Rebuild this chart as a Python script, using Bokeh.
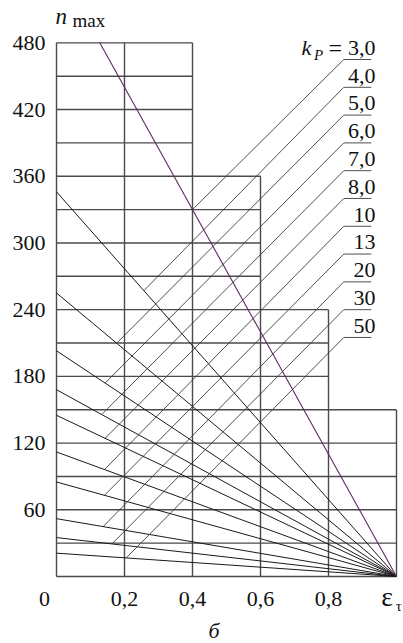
from bokeh.plotting import figure
from bokeh.models import Range1d
from bokeh.core.properties import value
from bokeh.embed import file_html
from bokeh.resources import INLINE

# ---- data ----
kp_labels = ["3,0", "4,0", "5,0", "6,0", "7,0", "8,0", "10", "13", "20", "30", "50"]
n_at_eps0 = [550, 346, 255, 203, 168, 145, 112, 85, 52, 35, 21]   # n_max at eps_tau = 0
eps_guide_start = [0.40, 0.257, 0.177, 0.143, 0.133, 0.143, 0.141, 0.141, 0.137, 0.163, 0.205]
label_n = [465, 440, 415, 390, 365, 340, 315, 290, 265, 240, 215]
eps_end = 1.0

x_ticks = [0.2, 0.4, 0.6, 0.8]
x_tick_labels = ["0,2", "0,4", "0,6", "0,8"]
y_ticks = [60, 120, 180, 240, 300, 360, 420, 480]
y_tick_labels = ["60", "120", "180", "240", "300", "360", "420", "480"]

step_right = [0.4, 0.6, 0.8, 1.0]
step_top = [480, 360, 240, 150]
grid_step = 30
v_grid = [0.0, 0.2, 0.4, 0.6, 0.8, 1.0]

FONT = value("Liberation Serif")
GRID = "#4a4a4a"
TXT = "#111111"

p = figure(width=403, height=643,
           x_range=Range1d(-0.16471, 1.02059), y_range=Range1d(-60.26, 518.07),
           output_backend="svg", toolbar_location=None, min_border=0,
           x_axis_type=None, y_axis_type=None)
p.outline_line_color = None
p.background_fill_color = "white"
p.border_fill_color = "white"

# ---- stepped grid ----
levels = list(range(0, max(step_top) + 1, grid_step))
h_right = [max(r for r, t in zip(step_right, step_top) if t >= L) for L in levels]
p.segment(x0=[0.0] * len(levels), y0=levels, x1=h_right, y1=levels,
          line_color=GRID, line_width=1.4)
v_top = [max(t for r, t in zip(step_right, step_top) if r >= x - 1e-9) for x in v_grid]
p.segment(x0=v_grid, y0=[0.0] * len(v_grid), x1=v_grid, y1=v_top,
          line_color=GRID, line_width=1.4)

# ---- falling lines n = n0 (1 - eps) ----
top = max(step_top)
xs, ys = [], []
for n0 in n_at_eps0:
    x_start = max(0.0, 1 - top / n0)
    xs.append([x_start, eps_end])
    ys.append([n0 * (1 - x_start), 0.0])
p.multi_line(xs=xs[1:], ys=ys[1:], line_color="#1a1a1a", line_width=1.0)
p.multi_line(xs=[xs[0]], ys=[ys[0]], line_color="#5e2a63", line_width=1.1)

# ---- guide lines to k_P labels ----
lab_x0, lab_x1, lab_txt = 0.845, 0.926, 0.938
gx, gy = [], []
for n0, e0, ln in zip(n_at_eps0, eps_guide_start, label_n):
    gx.append([e0, lab_x0, lab_x1])
    gy.append([n0 * (1 - e0), ln, ln])
p.multi_line(xs=gx, ys=gy, line_color="#3c3c3c", line_width=0.9)

p.text(x=[lab_txt] * len(kp_labels), y=[v + 10.5 for v in label_n], text=kp_labels,
       text_font=FONT, text_font_size="22px", text_align="right",
       text_baseline="middle", text_color=TXT)

# k_P =
kp_row = label_n[0] + 10.5
p.text(x=[0.7206], y=[kp_row], text=["k"], text_font=FONT, text_font_style="italic",
       text_font_size="22px", text_align="left", text_baseline="middle", text_color=TXT)
p.text(x=[0.757], y=[kp_row - 6.0], text=["P"], text_font=FONT, text_font_style="italic",
       text_font_size="15px", text_align="left", text_baseline="middle", text_color=TXT)
p.text(x=[0.800], y=[kp_row], text=["="], text_font=FONT,
       text_font_size="24px", text_align="left", text_baseline="middle", text_color=TXT)

# ---- tick labels ----
p.text(x=[-0.0324] * len(y_ticks), y=y_ticks, text=y_tick_labels, text_font=FONT,
       text_font_size="22px", text_align="right", text_baseline="middle", text_color=TXT)
p.text(x=x_ticks, y=[-20.1] * len(x_ticks), text=x_tick_labels, text_font=FONT,
       text_font_size="22px", text_align="center", text_baseline="middle", text_color=TXT)
p.text(x=[-0.0353], y=[-20.1], text=["0"], text_font=FONT,
       text_font_size="22px", text_align="center", text_baseline="middle", text_color=TXT)

# axis titles
p.text(x=[0.955], y=[-18.3], text=["ε"], text_font=FONT,
       text_font_size="28px", text_align="left", text_baseline="middle", text_color=TXT)
p.text(x=[0.998], y=[-26.8], text=["τ"], text_font=FONT,
       text_font_size="15px", text_align="left", text_baseline="middle", text_color=TXT)
p.text(x=[-0.003], y=[503.7], text=["n"], text_font=FONT, text_font_style="italic",
       text_font_size="23px", text_align="left", text_baseline="middle", text_color=TXT)
p.text(x=[0.047], y=[500.3], text=["max"], text_font=FONT,
       text_font_size="19px", text_align="left", text_baseline="middle", text_color=TXT)
p.text(x=[0.463], y=[-48.6], text=["б"], text_font=FONT, text_font_style="italic",
       text_font_size="22px", text_align="center", text_baseline="middle", text_color=TXT)

open("out.html", "w").write(file_html(p, INLINE))
